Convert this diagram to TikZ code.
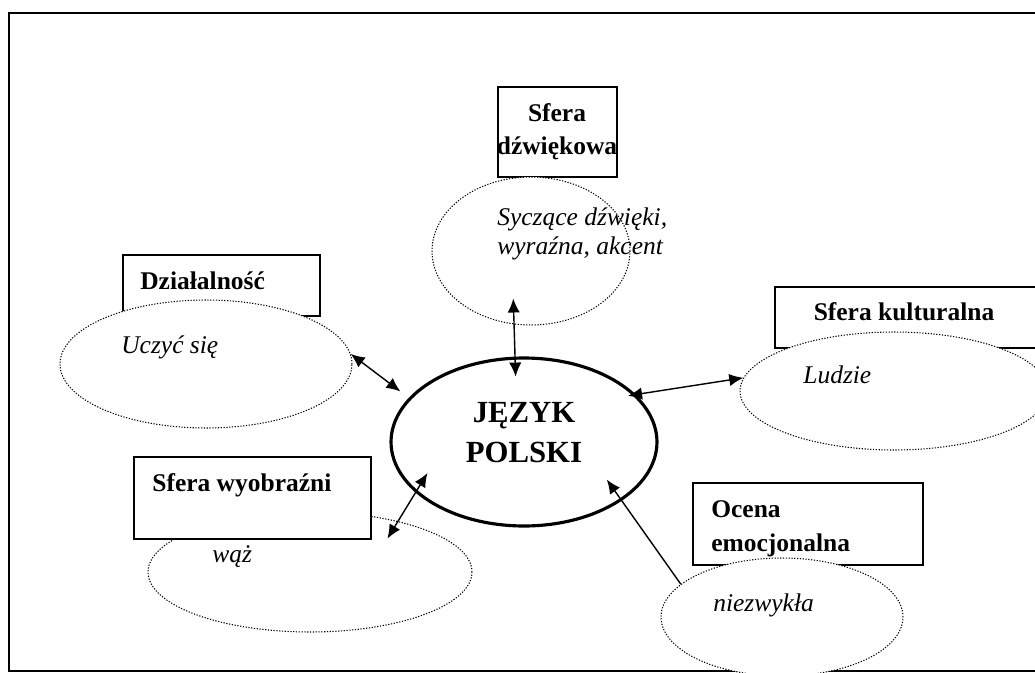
\documentclass[tikz,border=0pt]{standalone}
\usepackage{fontspec}
\setmainfont{Liberation Serif}
\usepackage{tikz}
\usetikzlibrary{shapes.geometric,arrows.meta,positioning}

\tikzset{
  oval/.style={ellipse, draw, fill=white, line width=0.6pt,
    dash pattern=on 0.7pt off 0.9pt, inner sep=0pt},
  box/.style={rectangle, draw, fill=white, line width=1.1pt, inner sep=0pt},
  boxtext/.style={font=\fontsize{14.5}{18.7}\selectfont\bfseries, inner sep=0pt},
  ovaltext/.style={font=\fontsize{14.5}{16.4}\selectfont\itshape, inner sep=0pt},
  tip/.style={>={Latex[length=8pt,width=7pt]}},
  link/.style={<->, tip, line width=0.8pt}
}

\begin{document}
\begin{tikzpicture}[x=0.02cm, y=-0.02cm]

\useasboundingbox (0,0) rectangle (1035,673);

% outer frame
\draw[line width=1.2pt] (9,13) rectangle (1050,671);

% sfera wyobrazni: box lies over its oval
\node[oval, minimum width=6.48cm, minimum height=2.40cm] (waz) at (310,572) {};
\node[box, minimum width=4.74cm, minimum height=1.64cm] (bwyobr) at (252.5,498) {};

% the other boxes, ovals over them
\node[box, minimum width=3.94cm, minimum height=1.22cm] (bdzial) at (221.5,285.5) {};
\node[oval, minimum width=5.84cm, minimum height=2.56cm] (ucz) at (206,364) {};

\node[box, minimum width=5.30cm, minimum height=1.22cm] (bkult) at (907.5,317.5) {};
\node[oval, minimum width=6.16cm, minimum height=2.36cm] (lud) at (894,391) {};

\node[box, minimum width=4.60cm, minimum height=1.64cm] (bocena) at (808,524) {};
\node[oval, minimum width=4.84cm, minimum height=2.36cm] (niezw) at (782,617) {};

\node[box, minimum width=2.38cm, minimum height=1.80cm] (bdzw) at (557.5,132) {};
\node[oval, minimum width=3.96cm, minimum height=2.96cm] (dzw) at (531,251) {};

% texts (multi-line ones sit on their last baseline)
\node[boxtext, anchor=base, align=center] (tsfera) at (557,154) {Sfera\\dźwiękowa};
\node[ovaltext, anchor=base west, align=left] (tdzw) at (497,254) {Syczące dźwięki,\\wyraźna, akcent};
\node[boxtext, anchor=base west] (tdzial) at (140,289) {Działalność};
\node[ovaltext, anchor=base west] (tucz) at (121,353) {Uczyć się};
\node[boxtext, anchor=base] (tkult) at (904,320) {Sfera kulturalna};
\node[ovaltext, anchor=base west] (tlud) at (803,383) {Ludzie};
\node[boxtext, anchor=base west] (twyobr) at (152,491) {Sfera wyobraźni};
\node[ovaltext, anchor=base west] (twaz) at (212,562) {wąż};
\node[boxtext, anchor=base west, align=left,
  font=\fontsize{14.5}{19.3}\selectfont\bfseries] (tocena) at (711,551) {Ocena\\emocjonalna};
\node[ovaltext, anchor=base west] (tniezw) at (713,611) {niezwykła};

% centre oval
\node[ellipse, draw, line width=1.8pt, minimum width=5.32cm, minimum height=3.36cm,
  inner sep=0pt] (jezyk) at (524,442) {};
\node[font=\fontsize{17.5}{22.7}\selectfont\bfseries, align=center, anchor=base,
  inner sep=0pt] (tjez) at (524,462) {JĘZYK\\POLSKI};

% arrows
\draw[link, shorten <=-0.52cm, shorten >=-0.40cm] (dzw.257.6) -- (jezyk.96.1);
\draw[link, shorten >=0.21cm] (ucz.4.4) -- (jezyk.159.8);
\draw[link, shorten <=-0.16cm] (jezyk.23.3) -- (lud.175.1);
\draw[link, shorten <=-0.41cm, shorten >=-0.46cm] (waz.30.9) -- (jezyk.205.9);
\draw[->, tip, line width=0.8pt, shorten >=-0.52cm] (niezw.162.3) -- (jezyk.329.8);

\end{tikzpicture}
\end{document}
